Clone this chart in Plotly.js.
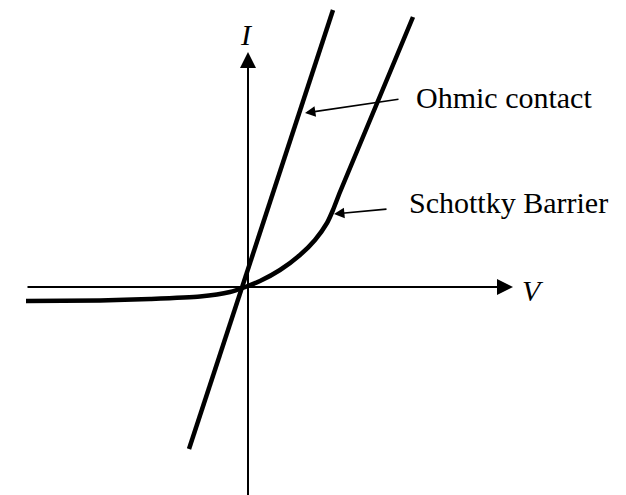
<!DOCTYPE html>
<html>
<head>
<meta charset="utf-8">
<script src="https://cdn.plot.ly/plotly-3.0.1.min.js"></script>
<style>html,body{margin:0;padding:0;background:#fff;}#chart{width:626px;height:495px;}</style>
</head>
<body>
<div id="chart"></div>
<script>
// Ohmic contact: straight line through the origin
const ohmicV = [-0.59, 0.85];
const ohmicI = [-1.62, 2.77];

// Schottky barrier: rectifying curve, then straight above the knee
const schottkyV = [-2.22, -1.48, -0.98, -0.48, -0.18, -0.04, 0.12, 0.32, 0.52, 0.67, 0.79, 0.85, 0.92, 1.65];
const schottkyI = [-0.14, -0.135, -0.12, -0.095, -0.05, -0.005, 0.06, 0.17, 0.32, 0.47, 0.64, 0.77, 0.95, 2.70];

// Axes (arrows) extents
const vAxisFrom = -2.22, vAxisTo = 2.65;
const iAxisFrom = -2.10, iAxisTo = 2.35;

// Labels
const axisLabels = {V: "V", I: "I"};
const curveLabels = ["Ohmic contact", "Schottky Barrier"];

const serif = "Liberation Serif, Times New Roman, serif";

const traces = [
  {x: ohmicV, y: ohmicI, mode: "lines", line: {color: "#000", width: 4.5}, hoverinfo: "skip"},
  {x: schottkyV, y: schottkyI, mode: "lines", line: {color: "#000", width: 4.5, shape: "spline", smoothing: 0.6}, hoverinfo: "skip"}
];

const annotations = [
  // V axis
  {x: vAxisTo, y: 0, ax: vAxisFrom, ay: 0, axref: "x", ayref: "y", xref: "x", yref: "y",
   text: "", showarrow: true, arrowhead: 2, arrowsize: 1.6, arrowwidth: 2, arrowcolor: "#000"},
  // I axis
  {x: 0, y: iAxisTo, ax: 0, ay: iAxisFrom, axref: "x", ayref: "y", xref: "x", yref: "y",
   text: "", showarrow: true, arrowhead: 2, arrowsize: 1.6, arrowwidth: 2, arrowcolor: "#000"},
  {x: 2.72, y: -0.03, xref: "x", yref: "y", text: axisLabels.V, showarrow: false,
   xanchor: "left", yanchor: "middle", font: {family: serif, size: 30, color: "#000", style: "italic"}},
  {x: -0.02, y: 2.53, xref: "x", yref: "y", text: axisLabels.I, showarrow: false,
   xanchor: "center", yanchor: "middle", font: {family: serif, size: 30, color: "#000", style: "italic"}},
  // curve labels
  {x: 1.66, y: 1.90, xref: "x", yref: "y", text: curveLabels[0], showarrow: false,
   xanchor: "left", yanchor: "middle", font: {family: serif, size: 30, color: "#000"}},
  {x: 1.59, y: 0.85, xref: "x", yref: "y", text: curveLabels[1], showarrow: false,
   xanchor: "left", yanchor: "middle", font: {family: serif, size: 30, color: "#000"}},
  // pointer arrows
  {x: 0.57, y: 1.74, ax: 1.52, ay: 1.88, axref: "x", ayref: "y", xref: "x", yref: "y",
   text: "", showarrow: true, arrowhead: 2, arrowsize: 1.3, arrowwidth: 1.6, arrowcolor: "#000"},
  {x: 0.86, y: 0.73, ax: 1.40, ay: 0.78, axref: "x", ayref: "y", xref: "x", yref: "y",
   text: "", showarrow: true, arrowhead: 2, arrowsize: 1.3, arrowwidth: 1.6, arrowcolor: "#000"}
];

const hidden = {showgrid: false, zeroline: false, showticklabels: false, ticks: "", showline: false, fixedrange: true};

const layout = {
  width: 626, height: 495,
  margin: {l: 0, r: 0, t: 0, b: 0},
  paper_bgcolor: "#fff", plot_bgcolor: "#fff",
  showlegend: false,
  xaxis: Object.assign({range: [-2.48, 3.78]}, hidden),
  yaxis: Object.assign({range: [-2.08, 2.87]}, hidden),
  annotations: annotations
};

Plotly.newPlot("chart", traces, layout, {staticPlot: true, displayModeBar: false});
</script>
</body>
</html>
